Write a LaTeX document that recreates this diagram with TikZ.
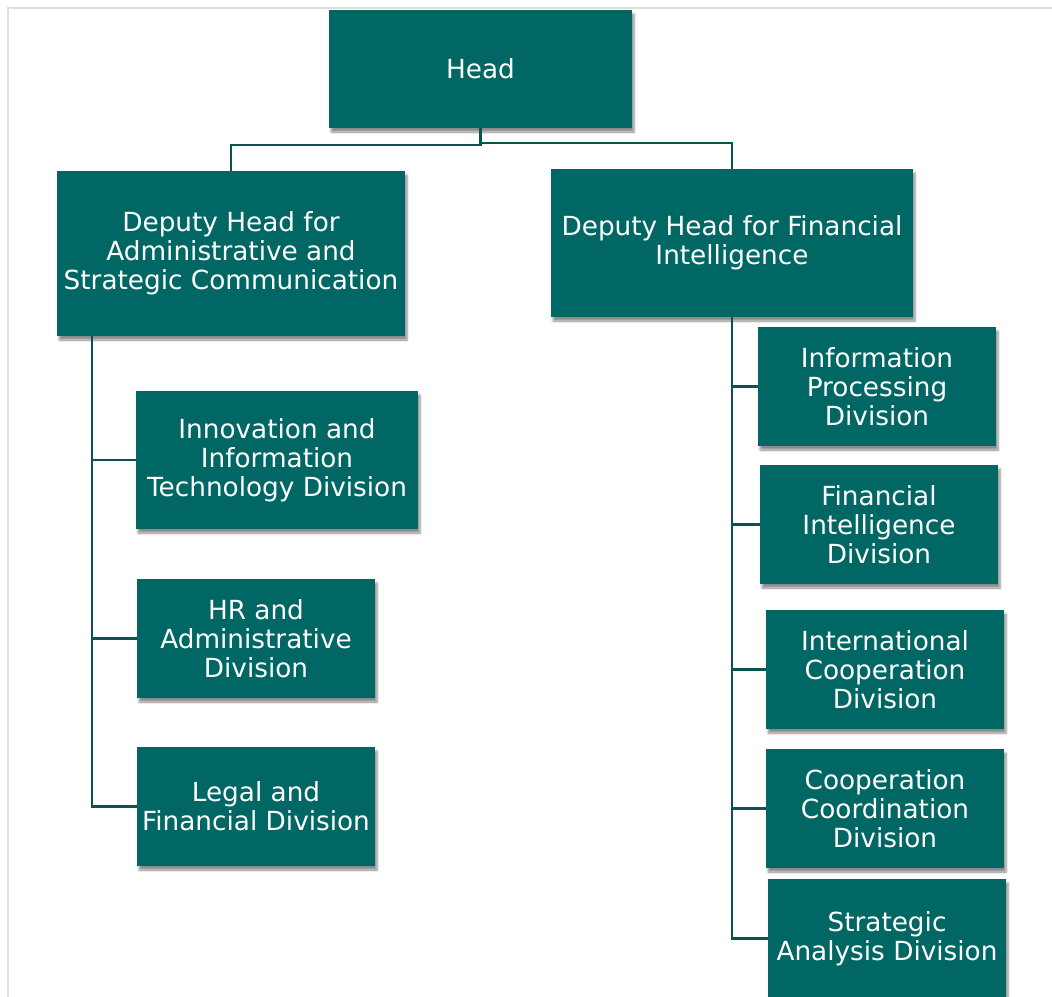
\documentclass[tikz,border=0pt]{standalone}
\usepackage{fontspec}
\setmainfont{DejaVu Sans}
\usepackage{tikz}
\usetikzlibrary{shadows.blur}
\definecolor{unitteal}{RGB}{0, 103, 100}
\definecolor{linkteal}{RGB}{10, 84, 80}
\definecolor{framegray}{RGB}{222, 222, 222}

\begin{document}
\begin{tikzpicture}[
        x=1pt, y=-1pt,
        every node/.style={font=\fontsize{26.3}{29}\selectfont},
        unit/.style={rectangle, fill=unitteal, text=white, align=center, inner sep=0pt,
            minimum width=238, minimum height=119,
            blur shadow={shadow xshift=2pt, shadow yshift=-4pt, shadow blur steps=6, shadow opacity=45}},
        link/.style={draw=linkteal, line width=2.2pt}
    ]
    \useasboundingbox (0,0) rectangle (1052,996);
    \draw[framegray, line width=2.5pt] (8,1000) -- (8,8) -- (1060,8);

    % top levels
    \node[unit, minimum width=303, minimum height=118] (head) at (480.5,69) {Head};
    \node[unit, minimum width=348, minimum height=165] (dhadmin) at (231,253.5)
        {Deputy Head for\\Administrative and\\Strategic Communication};
    \node[unit, minimum width=362, minimum height=148] (dhfin) at (732,243)
        {Deputy Head for Financial\\Intelligence};

    % divisions, left
    \node[unit, minimum width=282, minimum height=138] (innov) at (277,460)
        {Innovation and\\Information\\Technology Division};
    \node[unit] (hradmin) at (256,638.5) {HR and\\Administrative\\Division};
    \node[unit] (legal) at (256,806.5) {Legal and\\Financial Division};

    % divisions, right
    \node[unit] (infoproc) at (877,386.5) {Information\\Processing\\Division};
    \node[unit] (finintel) at (879,524.5) {Financial\\Intelligence\\Division};
    \node[unit] (intcoop) at (885,669.5) {International\\Cooperation\\Division};
    \node[unit] (coopcoord) at (885,808.5) {Cooperation\\Coordination\\Division};
    \node[unit] (stratan) at (887,938.5) {Strategic\\Analysis Division};

    % connectors
    \draw[link] (head.south) -- ++(0,17) -| (dhadmin.north);
    \draw[link] (head.south) -- ++(0,15) -| (dhfin.north);

    \coordinate (admintrunk) at ([xshift=35]dhadmin.south west);
    \foreach \n in {innov, hradmin, legal}
        \draw[link] (admintrunk) |- (\n.west);

    \foreach \n in {infoproc, finintel, intcoop, coopcoord, stratan}
        \draw[link] (dhfin.south) |- (\n.west);
\end{tikzpicture}
\end{document}
